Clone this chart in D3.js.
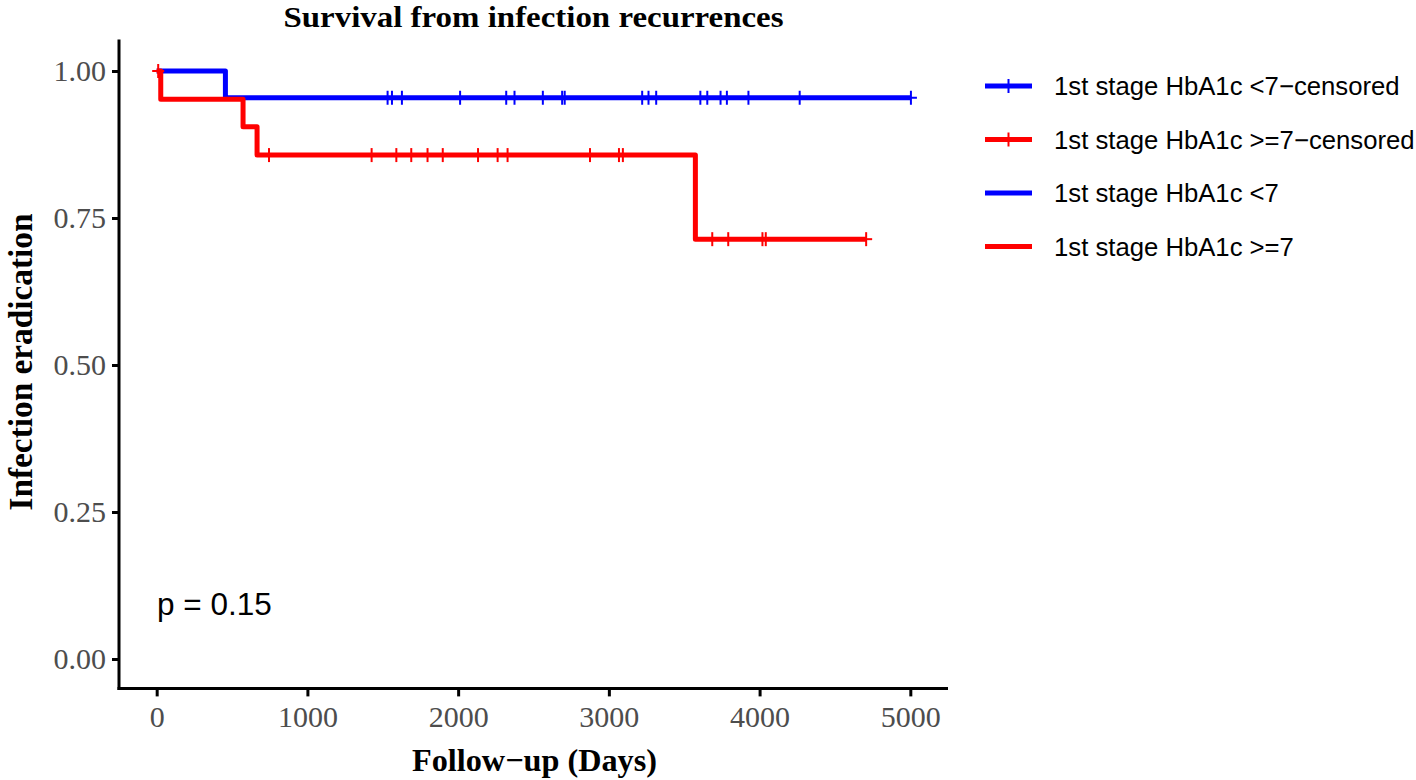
<!DOCTYPE html>
<html>
<head>
<meta charset="utf-8">
<script src="https://cdn.jsdelivr.net/npm/d3@7"></script>
<style>
  html, body { margin: 0; padding: 0; background: #ffffff; }
  svg { display: block; }
</style>
</head>
<body>
<svg id="chart" width="1416" height="780"></svg>
<script>
// ---------------- data ----------------
const title = "Survival from infection recurrences";
const xTitle = "Follow−up (Days)";
const yTitle = "Infection eradication";
const pText = "p = 0.15";

const xTicks = [0, 1000, 2000, 3000, 4000, 5000];
const yTicks = [0, 0.25, 0.5, 0.75, 1.0];
const yTickLabels = ["0.00", "0.25", "0.50", "0.75", "1.00"];

// group 1: HbA1c < 7 (blue)
const lowStepTimes = [0, 456];
const lowStepSurv  = [1.0, 0.9545];
const lowEndTime = 5004;
const lowCensorTimes = [1532, 1561, 1627, 2013, 2319, 2374, 2562, 2690, 2707,
  3221, 3263, 3314, 3607, 3653, 3741, 3783, 3926, 4266, 5004];

// group 2: HbA1c >= 7 (red)
const highStepTimes = [0, 27, 573, 666, 3574];
const highStepSurv  = [1.0, 0.952, 0.905, 0.857, 0.714];
const highEndTime = 4707;
const highCensorTimes = [10, 745, 1426, 1590, 1689, 1797, 1898, 2132, 2262, 2328,
  2875, 3067, 3093, 3686, 3792, 4019, 4041, 4707];

const legendLabels = [
  "1st stage HbA1c <7−censored",
  "1st stage HbA1c >=7−censored",
  "1st stage HbA1c <7",
  "1st stage HbA1c >=7"
];
const legendCensored = [true, true, false, false];
const legendGroup = ["low", "high", "low", "high"];

// ---------------- layout / style ----------------
const colors = { low: "#0000FF", high: "#FF0000" };
const serif = "'Liberation Serif', 'Times New Roman', serif";
const sans = "'Liberation Sans', Arial, Helvetica, sans-serif";

const panel = { left: 119, right: 948, top: 41.6, bottom: 688.4 };

const svg = d3.select("#chart");

const x = d3.scaleLinear().domain([-250, 5250]).range([panel.left, panel.right]);
const y = d3.scaleLinear().domain([-0.05, 1.05]).range([panel.bottom, panel.top]);

function survAt(times, surv, t) {
  let s = surv[0];
  for (let i = 0; i < times.length; i++) if (times[i] <= t) s = surv[i];
  return s;
}

// ---------------- axes ----------------
const xAxis = d3.axisBottom(x).tickValues(xTicks).tickSize(8).tickPadding(8)
  .tickFormat(d3.format("d"));
const gx = svg.append("g").attr("transform", `translate(0,${panel.bottom})`).call(xAxis);
gx.select(".domain").remove();
gx.selectAll(".tick line").attr("stroke", "#000").attr("stroke-width", 3);
gx.selectAll(".tick text").attr("font-family", serif).attr("font-size", 30)
  .attr("fill", "#4D4D4D").attr("dy", "0.76em");

const yAxis = d3.axisLeft(y).tickValues(yTicks).tickSize(7).tickPadding(6)
  .tickFormat((d, i) => yTickLabels[i]);
const gy = svg.append("g").attr("transform", `translate(${panel.left},0)`).call(yAxis);
gy.select(".domain").remove();
gy.selectAll(".tick line").attr("stroke", "#000").attr("stroke-width", 3);
gy.selectAll(".tick text").attr("font-family", serif).attr("font-size", 30)
  .attr("fill", "#4D4D4D");

// axis lines
svg.append("line").attr("x1", panel.left).attr("x2", panel.left)
  .attr("y1", panel.top - 2).attr("y2", panel.bottom + 1.5)
  .attr("stroke", "#000").attr("stroke-width", 3);
svg.append("line").attr("x1", panel.left - 1.5).attr("x2", panel.right)
  .attr("y1", panel.bottom).attr("y2", panel.bottom)
  .attr("stroke", "#000").attr("stroke-width", 3);

// ---------------- curves ----------------
function curveData(times, surv, endT) {
  const pts = times.map((t, i) => [t, surv[i]]);
  pts.push([endT, surv[surv.length - 1]]);
  return pts;
}
const line = d3.line().x(d => x(d[0])).y(d => y(d[1])).curve(d3.curveStepAfter);

const groups = [
  { key: "low", times: lowStepTimes, surv: lowStepSurv, end: lowEndTime, cens: lowCensorTimes },
  { key: "high", times: highStepTimes, surv: highStepSurv, end: highEndTime, cens: highCensorTimes }
];

groups.forEach(g => {
  svg.append("path").datum(curveData(g.times, g.surv, g.end))
    .attr("d", line).attr("fill", "none")
    .attr("stroke", colors[g.key]).attr("stroke-width", 5)
    .attr("stroke-linejoin", "round");
});
groups.forEach(g => {
  const m = svg.append("g");
  g.cens.forEach(t => {
    const cx = x(t), cy = y(survAt(g.times, g.surv, t));
    m.append("line").attr("x1", cx).attr("x2", cx).attr("y1", cy - 7).attr("y2", cy + 7)
      .attr("stroke", colors[g.key]).attr("stroke-width", 2);
    m.append("line").attr("x1", cx - 6).attr("x2", cx + 6).attr("y1", cy).attr("y2", cy)
      .attr("stroke", colors[g.key]).attr("stroke-width", 2);
  });
});

// ---------------- texts ----------------
svg.append("text").attr("x", (panel.left + panel.right) / 2).attr("y", 27)
  .attr("text-anchor", "middle").attr("font-family", serif).attr("font-weight", "bold")
  .attr("font-size", 30).attr("textLength", 500).attr("lengthAdjust", "spacingAndGlyphs")
  .attr("fill", "#000").text(title);

svg.append("text").attr("x", (panel.left + panel.right) / 2 + 1).attr("y", 771)
  .attr("text-anchor", "middle").attr("font-family", serif).attr("font-weight", "bold")
  .attr("font-size", 32).attr("textLength", 245).attr("lengthAdjust", "spacingAndGlyphs")
  .attr("fill", "#000").text(xTitle);

svg.append("text").attr("transform", `translate(32,${(panel.top + panel.bottom) / 2 - 3}) rotate(-90)`)
  .attr("text-anchor", "middle").attr("font-family", serif).attr("font-weight", "bold")
  .attr("font-size", 33).attr("textLength", 297).attr("lengthAdjust", "spacingAndGlyphs")
  .attr("fill", "#000").text(yTitle);

svg.append("text").attr("x", 157).attr("y", 615)
  .attr("font-family", sans).attr("font-size", 31.5).attr("fill", "#000").text(pText);

// ---------------- legend ----------------
const legend = svg.append("g");
legendLabels.forEach((lab, i) => {
  const ly = 86 + i * 53.5;
  const c = colors[legendGroup[i]];
  legend.append("line").attr("x1", 985).attr("x2", 1032).attr("y1", ly).attr("y2", ly)
    .attr("stroke", c).attr("stroke-width", 5);
  if (legendCensored[i]) {
    legend.append("line").attr("x1", 1008.5).attr("x2", 1008.5).attr("y1", ly - 7).attr("y2", ly + 7)
      .attr("stroke", c).attr("stroke-width", 2);
  }
  legend.append("text").attr("x", 1054).attr("y", ly + 9)
    .attr("font-family", sans).attr("font-size", 25.7).attr("fill", "#000").text(lab);
});
</script>
</body>
</html>
